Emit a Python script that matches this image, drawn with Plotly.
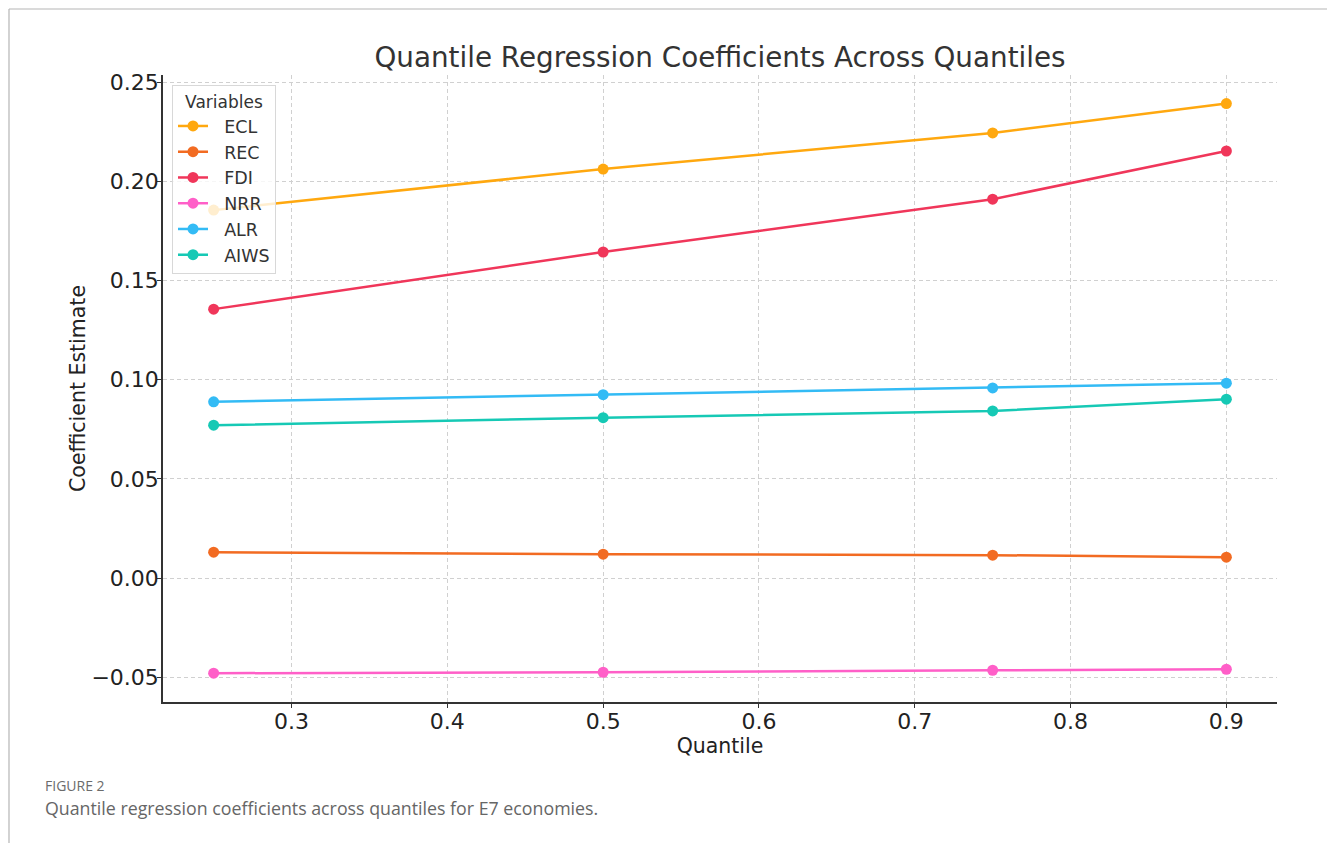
import plotly.graph_objects as go

quantiles = [0.25, 0.5, 0.75, 0.9]
variables = ["ECL", "REC", "FDI", "NRR", "ALR", "AIWS"]
ecl = [0.1855, 0.2062, 0.2244, 0.2392]
rec = [0.0131, 0.0121, 0.0116, 0.0106]
fdi = [0.1356, 0.1644, 0.1910, 0.2153]
nrr = [-0.0479, -0.0474, -0.0464, -0.0459]
alr = [0.0889, 0.0925, 0.0959, 0.0983]
aiws = [0.0771, 0.0809, 0.0843, 0.0902]
series = [ecl, rec, fdi, nrr, alr, aiws]
colors = ["#FFA80F", "#F26B22", "#F0365A", "#FF5FC8", "#33BBF5", "#16C9B5"]

OFF = 8  # page body margin
W, H = 1335 - OFF, 843 - OFF
L, R, T, B = 163 - OFF, 1277 - OFF, 75 - OFF, 702 - OFF

def px(x):
    return (x - OFF - L) / (R - L)

def py(y):
    return (B - (y - OFF)) / (B - T)

fig = go.Figure()
for name, vals, c in zip(variables, series, colors):
    fig.add_trace(go.Scatter(
        x=quantiles, y=vals, name="\u00a0\u00a0" + name, mode="lines+markers",
        line=dict(color=c, width=2.5),
        marker=dict(color=c, size=11),
    ))

axis_common = dict(
    showline=True, linecolor="#333333", linewidth=1.5,
    ticks="outside", ticklen=4, tickcolor="#333333", tickwidth=1.2,
    showgrid=True, gridcolor="#d0d0d0", griddash="4px,3px", gridwidth=1,
    zeroline=False, mirror=False,
    tickfont=dict(family="DejaVu Sans", size=22, color="#222222"),
)

fig.update_layout(
    width=W, height=H,
    margin=dict(l=L, r=W - R, t=T, b=H - B),
    paper_bgcolor="white", plot_bgcolor="white",
    font=dict(family="DejaVu Sans", color="#222222"),
    title=dict(
        text="Quantile Regression Coefficients Across Quantiles",
        x=px(720), xref="paper", xanchor="center",
        y=1 - (57 - OFF) / H, yanchor="middle",
        font=dict(family="DejaVu Sans", size=27.8, color="#333333"),
    ),
    xaxis=dict(
        **axis_common,
        ticklabelstandoff=-5,
        range=[0.2175, 0.9325], tickvals=[0.3, 0.4, 0.5, 0.6, 0.7, 0.8, 0.9],
        tickformat=".1f",
        title=dict(text="Quantile", font=dict(family="DejaVu Sans", size=20.5, color="#222222"), standoff=2),
    ),
    yaxis=dict(
        **axis_common,
        ticklabelstandoff=-6,
        range=[-0.0624, 0.2536], tickvals=[-0.05, 0.0, 0.05, 0.10, 0.15, 0.20, 0.25],
        tickformat=".2f",
        title=dict(text="Coefficient Estimate", font=dict(family="DejaVu Sans", size=20.5, color="#222222"), standoff=0),
    ),
    legend=dict(
        title=dict(text="Variables", font=dict(family="DejaVu Sans", size=17, color="#333333"), side="top center"),
        x=px(172), y=py(85), xanchor="left", yanchor="top",
        bgcolor="rgba(255,255,255,0.8)", bordercolor="#d8d8d8", borderwidth=1,
        font=dict(family="DejaVu Sans", size=17.5, color="#333333"),
        tracegroupgap=0, itemwidth=30,
    ),
    showlegend=True,
)

# outer page frame
frame = dict(type="line", xref="paper", yref="paper", line=dict(color="#b5b5b5", width=1.2))
fig.add_shape(**frame, x0=px(9), x1=px(9), y0=py(9), y1=py(843))
fig.add_shape(**frame, x0=px(9), x1=px(1333), y0=py(9), y1=py(9))
fig.add_shape(**frame, x0=px(1333), x1=px(1333), y0=py(9), y1=py(843))

fig.add_annotation(
    text="FIGURE 2", xref="paper", yref="paper", x=px(43), y=py(785),
    xanchor="left", yanchor="middle", showarrow=False,
    font=dict(family="Open Sans", size=14, color="#6b6b6b"),
)
fig.add_annotation(
    text="Quantile regression coefficients across quantiles for E7 economies.",
    xref="paper", yref="paper", x=px(43), y=py(808),
    xanchor="left", yanchor="middle", showarrow=False,
    font=dict(family="Open Sans", size=17.8, color="#666666"),
)

fig.write_html("out.html")
